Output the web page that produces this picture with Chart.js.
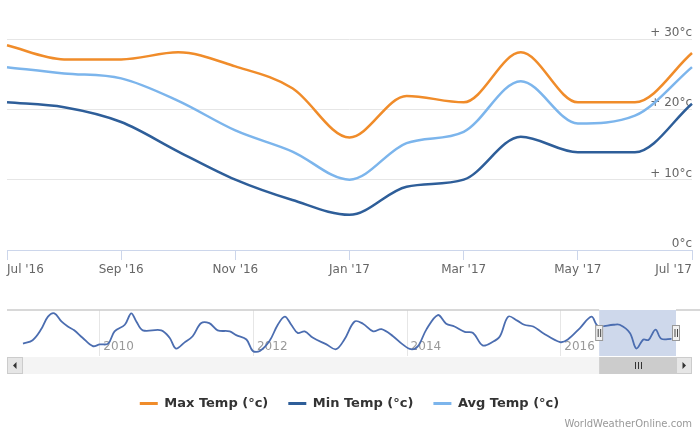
<!DOCTYPE html>
<html>
<head>
<meta charset="utf-8">
<script src="https://cdn.jsdelivr.net/npm/chart.js@4.4.1/dist/chart.umd.min.js"></script>
<style>
  html, body { margin: 0; padding: 0; background: #fff; }
  #wrap { position: relative; width: 700px; height: 437px; overflow: hidden; }
  #main { position: absolute; left: 0; top: 0; }
  #nav { position: absolute; left: 0; top: 300px; }
  #credits { position: absolute; right: 8px; top: 418px; font: 10px "DejaVu Sans", sans-serif; color: #999; }
</style>
</head>
<body>
<div id="wrap">
  <canvas id="main" width="700" height="437"></canvas>
  <canvas id="nav" width="700" height="80"></canvas>
  <div id="credits">WorldWeatherOnline.com</div>
</div>
<script>
// main chart data (monthly, Jul 2016 - Jul 2017)
const months = ["Jul '16", "Aug '16", "Sep '16", "Oct '16", "Nov '16", "Dec '16", "Jan '17",
                "Feb '17", "Mar '17", "Apr '17", "May '17", "Jun '17", "Jul '17"];
const maxTemp = [29.1, 27.1, 27.1, 28.1, 26.1, 23, 16, 21.9, 21, 28.1, 21, 21, 28];
const minTemp = [21, 20.3, 18.2, 14, 10, 7.1, 5, 9, 10, 16.1, 13.9, 13.9, 20.8];
const avgTemp = [26, 25.1, 24.4, 21.2, 17, 14, 10, 15.2, 16.8, 24, 18, 19.1, 26];
const yTickLabels = ['0°c', '+ 10°c', '+ 20°c', '+ 30°c'];

// navigator series: months counted from Jan 2009
const navMonth = [0, 1.5, 2.8, 3.9, 4.9, 6, 7, 8, 9.3, 10.9, 12, 13.3, 14.3, 15.9, 16.9, 17.7, 18.7,
  21.6, 22.9, 23.9, 25.2, 26.5, 27.8, 29.1, 30.4, 32.3, 33.3, 34.9, 35.9, 37, 38.5, 39.8, 40.9,
  41.9, 42.9, 44, 45.3, 47.4, 48.9, 50.2, 51.8, 53.1, 54.7, 56, 57.8, 59.3, 60.6, 61.7, 63, 64.8,
  66.1, 67.4, 69, 70.3, 71.8, 73.4, 74.5, 75.8, 77.2, 78.3, 79.7, 81.2, 83.9, 85.1, 87, 88.8,
  89.8, 92.2, 93.2, 94.8, 95.8, 96.9, 97.7, 98.8, 99.7, 101.3];
const navTemp = [18.1, 20.1, 26.2, 33.7, 35.6, 30.9, 28, 25.8, 21.5, 16.7, 17.7, 18.1, 25.2, 29,
  35.6, 30.9, 25.8, 25.8, 21.5, 15.3, 18.7, 22.4, 29.9, 29.9, 25.8, 25.2, 23, 20.5, 13.9, 13.9,
  19.6, 29, 33.7, 29, 24.3, 25.2, 21.5, 17.7, 14.9, 20.5, 30.9, 29.6, 25.2, 26.5, 22.4, 17.7,
  14.9, 16.7, 26.2, 34.6, 29.6, 28, 24.9, 24.3, 17.1, 19.2, 22.4, 33.7, 31.4, 29, 28, 24.3, 19,
  20.5, 27.1, 33.7, 28.4, 29, 29, 24.3, 15.3, 20.5, 20.2, 26.2, 20.9, 20.9];
const navTickMonths = [12, 36, 60, 84];
const navTickLabels = ['2010', '2012', '2014', '2016'];
const selStart = 90;  // Jul 2016
const selEnd = 102;   // Jul 2017

const FONT = '"DejaVu Sans", sans-serif';

function series(label, data, color) {
  return {
    label, data,
    borderColor: color,
    backgroundColor: color,
    pointBorderColor: color,
    pointBorderWidth: 3   // only used for the legend line
  };
}

new Chart(document.getElementById('main'), {
  type: 'line',
  data: {
    labels: months,
    datasets: [
      series('Max Temp (°c)', maxTemp, '#f08c2a'),
      series('Min Temp (°c)', minTemp, '#2e5e99'),
      series('Avg Temp (°c)', avgTemp, '#7cb5ec')
    ]
  },
  options: {
    responsive: false,
    animation: false,
    layout: { padding: { left: 7, right: 8, top: 39, bottom: 17 } },
    elements: {
      line: { borderWidth: 2.5, cubicInterpolationMode: 'monotone' },
      point: { radius: 0 }
    },
    plugins: {
      tooltip: { enabled: false },
      legend: {
        position: 'bottom',
        labels: {
          usePointStyle: true,
          pointStyle: 'line',
          pointStyleWidth: 18,
          padding: 20,
          color: '#333',
          font: { family: FONT, size: 13, weight: 'bold' }
        }
      }
    },
    scales: {
      x: {
        grid: {
          drawOnChartArea: false,
          tickLength: 10,
          tickColor: (c) => c.index % 2 === 0 ? '#ccd6eb' : 'rgba(0,0,0,0)'
        },
        border: { color: '#ccd6eb' },
        ticks: {
          autoSkip: false,
          maxRotation: 0,
          align: 'inner',
          padding: 3,
          color: '#666',
          font: { family: FONT, size: 12 },
          callback: (v, i) => i % 2 === 0 ? months[i] : ''
        },
        afterFit: (s) => { s.height = 127; }
      },
      y: {
        position: 'right',
        min: 0,
        max: 30,
        grid: {
          drawTicks: false,
          color: (c) => c.tick.value === 0 ? '#ccd6eb' : '#e6e6e6'
        },
        border: { display: false },
        ticks: {
          stepSize: 10,
          mirror: true,
          padding: 0,
          labelOffset: -6,
          color: '#666',
          font: { family: FONT, size: 12 },
          callback: (v) => yTickLabels[v / 10]
        }
      }
    }
  }
});

const navDecor = {
  id: 'navDecor',
  beforeDatasetsDraw(chart) {
    const { ctx, chartArea: a, scales: { x } } = chart;
    const x1 = x.getPixelForValue(selStart), x2 = x.getPixelForValue(selEnd);
    ctx.save();
    // year labels, placed with the x scale
    ctx.fillStyle = '#999';
    ctx.font = '12px ' + FONT;
    ctx.textBaseline = 'middle';
    x.ticks.forEach((t, i) => {
      ctx.fillText(navTickLabels[i], x.getPixelForValue(t.value) + 3.5, a.bottom - 9);
    });
    ctx.fillStyle = 'rgba(102,133,194,0.32)';
    ctx.fillRect(x1, a.top, x2 - x1, a.bottom - a.top);
    ctx.strokeStyle = '#cccccc';
    ctx.lineWidth = 1.5;
    ctx.beginPath();
    ctx.moveTo(a.left, a.top);
    ctx.lineTo(x1, a.top);
    ctx.moveTo(x2, a.top);
    ctx.lineTo(a.right + 8, a.top);
    ctx.stroke();
    ctx.restore();
  },
  afterDraw(chart) {
    const { ctx, chartArea: a, scales: { x } } = chart;
    const x1 = x.getPixelForValue(selStart), x2 = x.getPixelForValue(selEnd);
    ctx.save();
    // scrollbar
    const sy = a.bottom + 1, sh = 17, bw = 16;
    ctx.fillStyle = '#f4f4f4';
    ctx.fillRect(a.left, sy, a.right - a.left, sh);
    ctx.fillStyle = '#cccccc';
    ctx.fillRect(x1, sy, x2 - x1, sh);
    ctx.strokeStyle = '#333';
    ctx.lineWidth = 1;
    const gc = Math.round((x1 + x2) / 2);
    ctx.beginPath();
    for (const d of [-3, 0, 3]) {
      ctx.moveTo(gc + d + 0.5, sy + 5);
      ctx.lineTo(gc + d + 0.5, sy + sh - 5);
    }
    ctx.stroke();
    for (const [bx, dir] of [[a.left, -1], [a.right - bw, 1]]) {
      ctx.fillStyle = '#e6e6e6';
      ctx.fillRect(bx, sy, bw, sh);
      ctx.strokeStyle = '#cccccc';
      ctx.strokeRect(bx + 0.5, sy + 0.5, bw - 1, sh - 1);
      ctx.fillStyle = '#333';
      const cx = bx + bw / 2, cy = sy + sh / 2;
      ctx.beginPath();
      ctx.moveTo(cx + dir * 2, cy);
      ctx.lineTo(cx - dir * 1.5, cy - 3.5);
      ctx.lineTo(cx - dir * 1.5, cy + 3.5);
      ctx.closePath();
      ctx.fill();
    }
    // handles
    const hy = a.top + 15;
    for (const hx of [x1, x2]) {
      ctx.fillStyle = '#f2f2f2';
      ctx.fillRect(hx - 4, hy, 8, 16);
      ctx.strokeStyle = '#999';
      ctx.strokeRect(hx - 4 + 0.5, hy + 0.5, 7, 15);
      ctx.strokeStyle = '#444';
      ctx.beginPath();
      ctx.moveTo(hx - 1, hy + 4); ctx.lineTo(hx - 1, hy + 12);
      ctx.moveTo(hx + 1.5, hy + 4); ctx.lineTo(hx + 1.5, hy + 12);
      ctx.stroke();
    }
    ctx.restore();
  }
};

new Chart(document.getElementById('nav'), {
  type: 'line',
  data: {
    datasets: [{
      data: navMonth.map((m, i) => ({ x: m, y: navTemp[i] })),
      borderColor: '#4b6db0',
      borderWidth: 1.8,
      tension: 0.35,
      pointRadius: 0
    }]
  },
  options: {
    responsive: false,
    animation: false,
    layout: { padding: { left: 7, right: 8, top: 10, bottom: 24 } },
    plugins: { legend: { display: false }, tooltip: { enabled: false } },
    scales: {
      x: {
        type: 'linear',
        min: -2.5,
        max: 104.5,
        afterBuildTicks: (s) => { s.ticks = navTickMonths.map(v => ({ value: v })); },
        afterFit: (s) => { s.height = 0; },
        grid: { color: '#e6e6e6', drawTicks: false },
        border: { display: false },
        ticks: { display: false }
      },
      y: { display: false, min: 11, max: 37.5 }
    }
  },
  plugins: [navDecor]
});
</script>
</body>
</html>
